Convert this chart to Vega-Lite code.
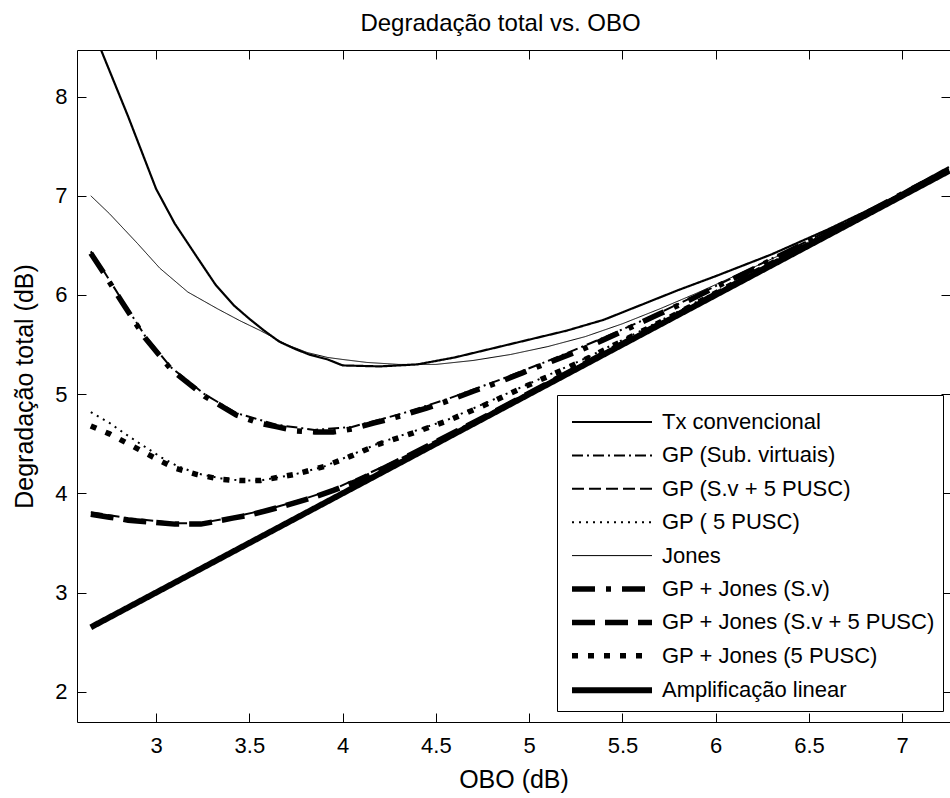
{
  "$schema": "https://vega.github.io/schema/vega-lite/v6.json",
  "width": 873,
  "height": 672,
  "autosize": {"type": "none"},
  "padding": {"left": 77, "top": 50, "right": 0, "bottom": 76},
  "background": "white",
  "title": {"text": "Degradação total vs. OBO", "fontSize": 24, "fontWeight": "normal", "color": "black", "font": "Liberation Sans", "baseline": "alphabetic", "offset": -5, "frame": "group", "anchor": "middle", "dx": -13},
  "config": {
    "view": {"stroke": null},
    "axis": {"grid": false, "domainColor": "black", "domainWidth": 1, "tickColor": "black", "tickWidth": 1, "tickSize": -9, "labelColor": "black", "titleColor": "black", "labelFont": "Liberation Sans", "titleFont": "Liberation Sans", "labelFontSize": 22, "titleFontSize": 25, "titleFontWeight": "normal"}
  },
  "data": {"values": [
    {"s": "Tx convencional", "x": 2.705, "y": 8.47},
    {"s": "Tx convencional", "x": 2.85, "y": 7.80},
    {"s": "Tx convencional", "x": 3.0, "y": 7.07},
    {"s": "Tx convencional", "x": 3.1, "y": 6.72},
    {"s": "Tx convencional", "x": 3.22, "y": 6.38},
    {"s": "Tx convencional", "x": 3.32, "y": 6.10},
    {"s": "Tx convencional", "x": 3.42, "y": 5.89},
    {"s": "Tx convencional", "x": 3.5, "y": 5.76},
    {"s": "Tx convencional", "x": 3.58, "y": 5.64},
    {"s": "Tx convencional", "x": 3.66, "y": 5.53},
    {"s": "Tx convencional", "x": 3.74, "y": 5.46},
    {"s": "Tx convencional", "x": 3.82, "y": 5.40},
    {"s": "Tx convencional", "x": 3.92, "y": 5.35},
    {"s": "Tx convencional", "x": 4.0, "y": 5.29},
    {"s": "Tx convencional", "x": 4.2, "y": 5.28},
    {"s": "Tx convencional", "x": 4.4, "y": 5.30},
    {"s": "Tx convencional", "x": 4.6, "y": 5.37},
    {"s": "Tx convencional", "x": 4.8, "y": 5.46},
    {"s": "Tx convencional", "x": 5.0, "y": 5.55},
    {"s": "Tx convencional", "x": 5.2, "y": 5.64},
    {"s": "Tx convencional", "x": 5.4, "y": 5.75},
    {"s": "Tx convencional", "x": 5.6, "y": 5.90},
    {"s": "Tx convencional", "x": 5.8, "y": 6.05},
    {"s": "Tx convencional", "x": 6.0, "y": 6.19},
    {"s": "Tx convencional", "x": 6.3, "y": 6.41},
    {"s": "Tx convencional", "x": 6.6, "y": 6.66},
    {"s": "Tx convencional", "x": 6.9, "y": 6.93},
    {"s": "Tx convencional", "x": 7.25, "y": 7.29},

    {"s": "GP (Sub. virtuais)", "x": 2.65, "y": 6.44},
    {"s": "GP (Sub. virtuais)", "x": 2.72, "y": 6.24},
    {"s": "GP (Sub. virtuais)", "x": 2.81, "y": 5.97},
    {"s": "GP (Sub. virtuais)", "x": 2.94, "y": 5.59},
    {"s": "GP (Sub. virtuais)", "x": 3.08, "y": 5.27},
    {"s": "GP (Sub. virtuais)", "x": 3.26, "y": 5.00},
    {"s": "GP (Sub. virtuais)", "x": 3.43, "y": 4.81},
    {"s": "GP (Sub. virtuais)", "x": 3.65, "y": 4.69},
    {"s": "GP (Sub. virtuais)", "x": 3.85, "y": 4.64},
    {"s": "GP (Sub. virtuais)", "x": 4.05, "y": 4.67},
    {"s": "GP (Sub. virtuais)", "x": 4.31, "y": 4.80},
    {"s": "GP (Sub. virtuais)", "x": 4.56, "y": 4.95},
    {"s": "GP (Sub. virtuais)", "x": 4.85, "y": 5.15},
    {"s": "GP (Sub. virtuais)", "x": 5.12, "y": 5.35},
    {"s": "GP (Sub. virtuais)", "x": 5.4, "y": 5.57},
    {"s": "GP (Sub. virtuais)", "x": 5.7, "y": 5.82},
    {"s": "GP (Sub. virtuais)", "x": 6.0, "y": 6.09},
    {"s": "GP (Sub. virtuais)", "x": 6.4, "y": 6.46},
    {"s": "GP (Sub. virtuais)", "x": 6.8, "y": 6.83},
    {"s": "GP (Sub. virtuais)", "x": 7.25, "y": 7.27},

    {"s": "GP (S.v + 5 PUSC)", "x": 2.65, "y": 3.81},
    {"s": "GP (S.v + 5 PUSC)", "x": 2.85, "y": 3.75},
    {"s": "GP (S.v + 5 PUSC)", "x": 3.10, "y": 3.70},
    {"s": "GP (S.v + 5 PUSC)", "x": 3.24, "y": 3.70},
    {"s": "GP (S.v + 5 PUSC)", "x": 3.41, "y": 3.76},
    {"s": "GP (S.v + 5 PUSC)", "x": 3.60, "y": 3.84},
    {"s": "GP (S.v + 5 PUSC)", "x": 3.77, "y": 3.93},
    {"s": "GP (S.v + 5 PUSC)", "x": 3.95, "y": 4.04},
    {"s": "GP (S.v + 5 PUSC)", "x": 4.3, "y": 4.34},
    {"s": "GP (S.v + 5 PUSC)", "x": 4.8, "y": 4.82},
    {"s": "GP (S.v + 5 PUSC)", "x": 5.4, "y": 5.42},
    {"s": "GP (S.v + 5 PUSC)", "x": 6.2, "y": 6.21},
    {"s": "GP (S.v + 5 PUSC)", "x": 7.25, "y": 7.26},

    {"s": "GP ( 5 PUSC)", "x": 2.65, "y": 4.82},
    {"s": "GP ( 5 PUSC)", "x": 2.75, "y": 4.71},
    {"s": "GP ( 5 PUSC)", "x": 2.85, "y": 4.58},
    {"s": "GP ( 5 PUSC)", "x": 2.94, "y": 4.47},
    {"s": "GP ( 5 PUSC)", "x": 3.03, "y": 4.36},
    {"s": "GP ( 5 PUSC)", "x": 3.11, "y": 4.28},
    {"s": "GP ( 5 PUSC)", "x": 3.22, "y": 4.20},
    {"s": "GP ( 5 PUSC)", "x": 3.35, "y": 4.15},
    {"s": "GP ( 5 PUSC)", "x": 3.45, "y": 4.13},
    {"s": "GP ( 5 PUSC)", "x": 3.56, "y": 4.13},
    {"s": "GP ( 5 PUSC)", "x": 3.74, "y": 4.19},
    {"s": "GP ( 5 PUSC)", "x": 3.90, "y": 4.27},
    {"s": "GP ( 5 PUSC)", "x": 4.2, "y": 4.51},
    {"s": "GP ( 5 PUSC)", "x": 4.56, "y": 4.74},
    {"s": "GP ( 5 PUSC)", "x": 4.97, "y": 5.08},
    {"s": "GP ( 5 PUSC)", "x": 5.3, "y": 5.36},
    {"s": "GP ( 5 PUSC)", "x": 5.6, "y": 5.64},
    {"s": "GP ( 5 PUSC)", "x": 6.0, "y": 6.03},
    {"s": "GP ( 5 PUSC)", "x": 6.5, "y": 6.52},
    {"s": "GP ( 5 PUSC)", "x": 7.0, "y": 7.01},
    {"s": "GP ( 5 PUSC)", "x": 7.25, "y": 7.26},

    {"s": "Jones", "x": 2.65, "y": 7.00},
    {"s": "Jones", "x": 2.75, "y": 6.82},
    {"s": "Jones", "x": 2.90, "y": 6.52},
    {"s": "Jones", "x": 3.02, "y": 6.27},
    {"s": "Jones", "x": 3.17, "y": 6.03},
    {"s": "Jones", "x": 3.33, "y": 5.86},
    {"s": "Jones", "x": 3.45, "y": 5.74},
    {"s": "Jones", "x": 3.56, "y": 5.64},
    {"s": "Jones", "x": 3.70, "y": 5.50},
    {"s": "Jones", "x": 3.81, "y": 5.42},
    {"s": "Jones", "x": 3.92, "y": 5.37},
    {"s": "Jones", "x": 4.0, "y": 5.35},
    {"s": "Jones", "x": 4.13, "y": 5.32},
    {"s": "Jones", "x": 4.3, "y": 5.30},
    {"s": "Jones", "x": 4.5, "y": 5.30},
    {"s": "Jones", "x": 4.7, "y": 5.34},
    {"s": "Jones", "x": 4.9, "y": 5.40},
    {"s": "Jones", "x": 5.1, "y": 5.48},
    {"s": "Jones", "x": 5.3, "y": 5.58},
    {"s": "Jones", "x": 5.5, "y": 5.71},
    {"s": "Jones", "x": 5.7, "y": 5.86},
    {"s": "Jones", "x": 5.9, "y": 6.02},
    {"s": "Jones", "x": 6.1, "y": 6.19},
    {"s": "Jones", "x": 6.4, "y": 6.45},
    {"s": "Jones", "x": 6.7, "y": 6.71},
    {"s": "Jones", "x": 7.0, "y": 6.99},
    {"s": "Jones", "x": 7.25, "y": 7.26},

    {"s": "GP + Jones (S.v)", "x": 2.65, "y": 6.42},
    {"s": "GP + Jones (S.v)", "x": 2.72, "y": 6.22},
    {"s": "GP + Jones (S.v)", "x": 2.81, "y": 5.95},
    {"s": "GP + Jones (S.v)", "x": 2.94, "y": 5.57},
    {"s": "GP + Jones (S.v)", "x": 3.08, "y": 5.25},
    {"s": "GP + Jones (S.v)", "x": 3.26, "y": 4.98},
    {"s": "GP + Jones (S.v)", "x": 3.43, "y": 4.79},
    {"s": "GP + Jones (S.v)", "x": 3.55, "y": 4.71},
    {"s": "GP + Jones (S.v)", "x": 3.65, "y": 4.67},
    {"s": "GP + Jones (S.v)", "x": 3.75, "y": 4.63},
    {"s": "GP + Jones (S.v)", "x": 3.85, "y": 4.62},
    {"s": "GP + Jones (S.v)", "x": 3.95, "y": 4.62},
    {"s": "GP + Jones (S.v)", "x": 4.05, "y": 4.65},
    {"s": "GP + Jones (S.v)", "x": 4.17, "y": 4.71},
    {"s": "GP + Jones (S.v)", "x": 4.31, "y": 4.78},
    {"s": "GP + Jones (S.v)", "x": 4.45, "y": 4.86},
    {"s": "GP + Jones (S.v)", "x": 4.56, "y": 4.93},
    {"s": "GP + Jones (S.v)", "x": 4.7, "y": 5.03},
    {"s": "GP + Jones (S.v)", "x": 4.85, "y": 5.13},
    {"s": "GP + Jones (S.v)", "x": 4.97, "y": 5.22},
    {"s": "GP + Jones (S.v)", "x": 5.12, "y": 5.33},
    {"s": "GP + Jones (S.v)", "x": 5.27, "y": 5.44},
    {"s": "GP + Jones (S.v)", "x": 5.4, "y": 5.55},
    {"s": "GP + Jones (S.v)", "x": 5.54, "y": 5.67},
    {"s": "GP + Jones (S.v)", "x": 5.7, "y": 5.81},
    {"s": "GP + Jones (S.v)", "x": 5.85, "y": 5.94},
    {"s": "GP + Jones (S.v)", "x": 6.0, "y": 6.08},
    {"s": "GP + Jones (S.v)", "x": 6.2, "y": 6.26},
    {"s": "GP + Jones (S.v)", "x": 6.4, "y": 6.45},
    {"s": "GP + Jones (S.v)", "x": 6.6, "y": 6.63},
    {"s": "GP + Jones (S.v)", "x": 6.8, "y": 6.82},
    {"s": "GP + Jones (S.v)", "x": 7.0, "y": 7.02},
    {"s": "GP + Jones (S.v)", "x": 7.25, "y": 7.26},

    {"s": "GP + Jones (S.v + 5 PUSC)", "x": 2.65, "y": 3.79},
    {"s": "GP + Jones (S.v + 5 PUSC)", "x": 2.75, "y": 3.76},
    {"s": "GP + Jones (S.v + 5 PUSC)", "x": 2.85, "y": 3.73},
    {"s": "GP + Jones (S.v + 5 PUSC)", "x": 2.97, "y": 3.71},
    {"s": "GP + Jones (S.v + 5 PUSC)", "x": 3.10, "y": 3.69},
    {"s": "GP + Jones (S.v + 5 PUSC)", "x": 3.24, "y": 3.69},
    {"s": "GP + Jones (S.v + 5 PUSC)", "x": 3.33, "y": 3.72},
    {"s": "GP + Jones (S.v + 5 PUSC)", "x": 3.41, "y": 3.75},
    {"s": "GP + Jones (S.v + 5 PUSC)", "x": 3.50, "y": 3.78},
    {"s": "GP + Jones (S.v + 5 PUSC)", "x": 3.60, "y": 3.83},
    {"s": "GP + Jones (S.v + 5 PUSC)", "x": 3.68, "y": 3.87},
    {"s": "GP + Jones (S.v + 5 PUSC)", "x": 3.77, "y": 3.92},
    {"s": "GP + Jones (S.v + 5 PUSC)", "x": 3.86, "y": 3.97},
    {"s": "GP + Jones (S.v + 5 PUSC)", "x": 3.95, "y": 4.03},
    {"s": "GP + Jones (S.v + 5 PUSC)", "x": 4.1, "y": 4.14},
    {"s": "GP + Jones (S.v + 5 PUSC)", "x": 4.3, "y": 4.33},
    {"s": "GP + Jones (S.v + 5 PUSC)", "x": 4.5, "y": 4.52},
    {"s": "GP + Jones (S.v + 5 PUSC)", "x": 4.8, "y": 4.81},
    {"s": "GP + Jones (S.v + 5 PUSC)", "x": 5.1, "y": 5.11},
    {"s": "GP + Jones (S.v + 5 PUSC)", "x": 5.4, "y": 5.41},
    {"s": "GP + Jones (S.v + 5 PUSC)", "x": 5.8, "y": 5.81},
    {"s": "GP + Jones (S.v + 5 PUSC)", "x": 6.2, "y": 6.21},
    {"s": "GP + Jones (S.v + 5 PUSC)", "x": 6.6, "y": 6.61},
    {"s": "GP + Jones (S.v + 5 PUSC)", "x": 7.0, "y": 7.01},
    {"s": "GP + Jones (S.v + 5 PUSC)", "x": 7.25, "y": 7.26},

    {"s": "GP + Jones (5 PUSC)", "x": 2.65, "y": 4.68},
    {"s": "GP + Jones (5 PUSC)", "x": 2.75, "y": 4.60},
    {"s": "GP + Jones (5 PUSC)", "x": 2.85, "y": 4.50},
    {"s": "GP + Jones (5 PUSC)", "x": 2.94, "y": 4.41},
    {"s": "GP + Jones (5 PUSC)", "x": 3.03, "y": 4.32},
    {"s": "GP + Jones (5 PUSC)", "x": 3.11, "y": 4.25},
    {"s": "GP + Jones (5 PUSC)", "x": 3.22, "y": 4.19},
    {"s": "GP + Jones (5 PUSC)", "x": 3.35, "y": 4.14},
    {"s": "GP + Jones (5 PUSC)", "x": 3.45, "y": 4.13},
    {"s": "GP + Jones (5 PUSC)", "x": 3.56, "y": 4.13},
    {"s": "GP + Jones (5 PUSC)", "x": 3.65, "y": 4.16},
    {"s": "GP + Jones (5 PUSC)", "x": 3.74, "y": 4.19},
    {"s": "GP + Jones (5 PUSC)", "x": 3.82, "y": 4.23},
    {"s": "GP + Jones (5 PUSC)", "x": 3.90, "y": 4.27},
    {"s": "GP + Jones (5 PUSC)", "x": 4.05, "y": 4.38},
    {"s": "GP + Jones (5 PUSC)", "x": 4.2, "y": 4.50},
    {"s": "GP + Jones (5 PUSC)", "x": 4.38, "y": 4.61},
    {"s": "GP + Jones (5 PUSC)", "x": 4.56, "y": 4.73},
    {"s": "GP + Jones (5 PUSC)", "x": 4.75, "y": 4.88},
    {"s": "GP + Jones (5 PUSC)", "x": 4.97, "y": 5.07},
    {"s": "GP + Jones (5 PUSC)", "x": 5.15, "y": 5.22},
    {"s": "GP + Jones (5 PUSC)", "x": 5.3, "y": 5.35},
    {"s": "GP + Jones (5 PUSC)", "x": 5.45, "y": 5.49},
    {"s": "GP + Jones (5 PUSC)", "x": 5.6, "y": 5.63},
    {"s": "GP + Jones (5 PUSC)", "x": 5.8, "y": 5.82},
    {"s": "GP + Jones (5 PUSC)", "x": 6.0, "y": 6.02},
    {"s": "GP + Jones (5 PUSC)", "x": 6.3, "y": 6.32},
    {"s": "GP + Jones (5 PUSC)", "x": 6.6, "y": 6.61},
    {"s": "GP + Jones (5 PUSC)", "x": 6.9, "y": 6.91},
    {"s": "GP + Jones (5 PUSC)", "x": 7.25, "y": 7.26},

    {"s": "Amplificação linear", "x": 2.65, "y": 2.65},
    {"s": "Amplificação linear", "x": 3.5, "y": 3.5},
    {"s": "Amplificação linear", "x": 4.5, "y": 4.5},
    {"s": "Amplificação linear", "x": 5.5, "y": 5.5},
    {"s": "Amplificação linear", "x": 6.5, "y": 6.5},
    {"s": "Amplificação linear", "x": 7.25, "y": 7.25}
  ]},
  "layer": [
    {
      "mark": {"type": "line", "clip": true, "color": "black", "strokeCap": "butt"},
      "encoding": {
        "x": {"field": "x", "type": "quantitative", "scale": {"domain": [2.576, 7.256], "nice": false, "zero": false},
              "axis": {"orient": "bottom", "values": [3, 3.5, 4, 4.5, 5, 5.5, 6, 6.5, 7], "format": "~g", "labelPadding": 22, "title": "OBO (dB)", "titleBaseline": "alphabetic", "titleY": 65}},
        "y": {"field": "y", "type": "quantitative", "scale": {"domain": [1.695, 8.47], "nice": false, "zero": false},
              "axis": {"orient": "left", "values": [2, 3, 4, 5, 6, 7, 8], "format": "~g", "labelPadding": 19, "title": "Degradação total (dB)", "titleBaseline": "alphabetic", "titleX": -45, "titleY": 336, "titleAngle": 270}},
        "strokeDash": {"field": "s", "type": "nominal",
          "scale": {"type": "ordinal", "domain": ["Tx convencional", "GP (Sub. virtuais)", "GP (S.v + 5 PUSC)", "GP ( 5 PUSC)", "Jones", "GP + Jones (S.v)", "GP + Jones (S.v + 5 PUSC)", "GP + Jones (5 PUSC)", "Amplificação linear"],
                    "range": [[1, 0], [11, 4, 2, 4], [12, 5], [2, 5], [1, 0], [23, 11, 5, 11], [23, 10], [6, 10], [1, 0]]},
          "legend": {"orient": "none", "legendX": 480, "legendY": 345, "title": " ", "titleFontSize": 6, "titlePadding": 2, "symbolType": "M-0.8,0H15.2", "symbolSize": 100, "symbolStrokeColor": "black", "labelFont": "Liberation Sans", "labelFontSize": 22, "labelColor": "black", "labelOffset": 75, "labelLimit": 400, "padding": 8, "rowPadding": 11.4, "strokeColor": "black", "fillColor": "white", "cornerRadius": 0}},
        "strokeWidth": {"field": "s", "type": "nominal",
          "scale": {"type": "ordinal", "domain": ["Tx convencional", "GP (Sub. virtuais)", "GP (S.v + 5 PUSC)", "GP ( 5 PUSC)", "Jones", "GP + Jones (S.v)", "GP + Jones (S.v + 5 PUSC)", "GP + Jones (5 PUSC)", "Amplificação linear"],
                    "range": [2.2, 2, 2, 2, 1, 5.5, 5.5, 5.5, 6]},
          "legend": {"orient": "none", "legendX": 480, "legendY": 345, "title": " ", "titleFontSize": 6, "titlePadding": 2, "symbolType": "M-0.8,0H15.2", "symbolSize": 100, "symbolStrokeColor": "black", "labelFont": "Liberation Sans", "labelFontSize": 22, "labelColor": "black", "labelOffset": 75, "labelLimit": 400, "padding": 8, "rowPadding": 11.4, "strokeColor": "black", "fillColor": "white", "cornerRadius": 0}}
      }
    },
    {
      "mark": {"type": "point", "opacity": 0, "clip": true},
      "encoding": {
        "x": {"field": "x", "type": "quantitative", "axis": {"orient": "top", "values": [3, 3.5, 4, 4.5, 5, 5.5, 6, 6.5, 7], "labels": false, "title": null}},
        "y": {"field": "y", "type": "quantitative", "axis": {"orient": "right", "values": [2, 3, 4, 5, 6, 7, 8], "labels": false, "title": null}}
      }
    }
  ],
  "resolve": {"axis": {"x": "independent", "y": "independent"}}
}
